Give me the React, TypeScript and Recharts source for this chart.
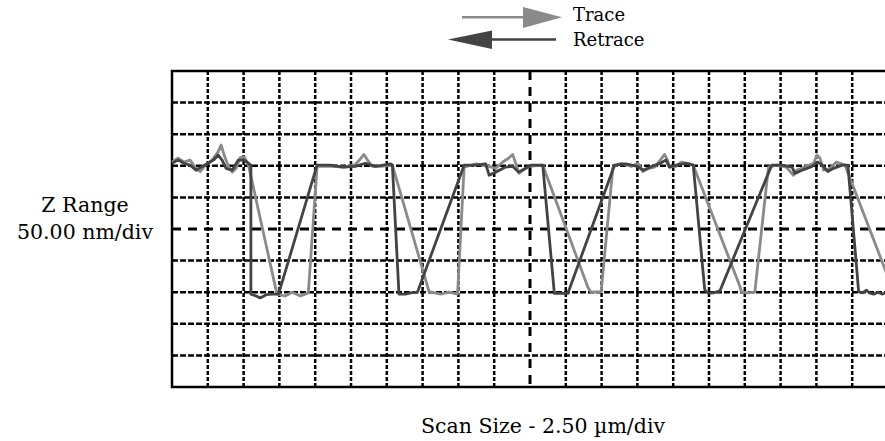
import { LineChart, Line, XAxis, YAxis, CartesianGrid, ReferenceArea } from "recharts";

// scan position in µm, height in nm (10 divisions of 50 nm, 20 divisions of 2.5 µm)
const trace = [
  { x: 0, z: 356 }, { x: 0.42, z: 362 }, { x: 0.84, z: 356 }, { x: 1.26, z: 359 },
  { x: 1.68, z: 346 }, { x: 1.96, z: 341 }, { x: 2.38, z: 352 }, { x: 2.8, z: 359 },
  { x: 3.22, z: 372 }, { x: 3.43, z: 383 }, { x: 3.64, z: 367 }, { x: 3.92, z: 350 },
  { x: 4.2, z: 340 }, { x: 4.48, z: 346 }, { x: 4.76, z: 363 }, { x: 5.04, z: 364 },
  { x: 5.32, z: 353 }, { x: 7.33, z: 147 }, { x: 7.9, z: 144 }, { x: 8.4, z: 150 },
  { x: 8.96, z: 144 }, { x: 9.52, z: 149 }, { x: 10.13, z: 349 }, { x: 11.07, z: 349 },
  { x: 12.1, z: 348 }, { x: 12.8, z: 352 }, { x: 13.2, z: 362 }, { x: 13.4, z: 368 },
  { x: 13.65, z: 359 }, { x: 14.0, z: 349 }, { x: 14.57, z: 349 }, { x: 15.39, z: 351 },
  { x: 17.95, z: 151 }, { x: 18.77, z: 147 }, { x: 19.33, z: 150 }, { x: 19.94, z: 147 },
  { x: 20.4, z: 348 }, { x: 21.22, z: 353 }, { x: 22.13, z: 349 }, { x: 22.6, z: 346 },
  { x: 23.1, z: 356 }, { x: 23.5, z: 362 }, { x: 23.79, z: 368 }, { x: 24.0, z: 354 },
  { x: 24.23, z: 338 }, { x: 24.5, z: 343 }, { x: 24.93, z: 349 }, { x: 25.89, z: 351 },
  { x: 29.04, z: 158 }, { x: 29.27, z: 150 }, { x: 29.97, z: 151 }, { x: 30.79, z: 348 },
  { x: 31.37, z: 354 }, { x: 32.07, z: 349 }, { x: 32.54, z: 354 }, { x: 32.89, z: 341 },
  { x: 33.3, z: 346 }, { x: 33.7, z: 348 }, { x: 34.2, z: 362 }, { x: 34.4, z: 368 },
  { x: 34.6, z: 359 }, { x: 34.76, z: 348 }, { x: 35.2, z: 349 }, { x: 35.57, z: 356 },
  { x: 36.0, z: 354 }, { x: 36.4, z: 351 }, { x: 39.66, z: 159 }, { x: 39.78, z: 150 },
  { x: 40.2, z: 149 }, { x: 40.7, z: 150 }, { x: 41.65, z: 348 }, { x: 42.2, z: 351 },
  { x: 42.9, z: 348 }, { x: 43.4, z: 335 }, { x: 43.6, z: 343 }, { x: 44.3, z: 349 },
  { x: 44.8, z: 354 }, { x: 45.04, z: 367 }, { x: 45.25, z: 362 }, { x: 45.5, z: 343 },
  { x: 45.95, z: 346 }, { x: 46.4, z: 356 }, { x: 47.0, z: 351 }, { x: 50.0, z: 174 },
];

const retrace = [
  { x: 0, z: 354 }, { x: 0.42, z: 359 }, { x: 0.84, z: 354 }, { x: 1.26, z: 351 },
  { x: 1.68, z: 343 }, { x: 2.1, z: 349 }, { x: 2.52, z: 354 }, { x: 2.94, z: 360 },
  { x: 3.22, z: 367 }, { x: 3.5, z: 359 }, { x: 3.78, z: 346 }, { x: 4.2, z: 343 },
  { x: 4.62, z: 359 }, { x: 5.04, z: 359 }, { x: 5.51, z: 351 }, { x: 5.51, z: 147 },
  { x: 5.88, z: 144 }, { x: 6.16, z: 141 }, { x: 6.58, z: 146 }, { x: 7.0, z: 147 },
  { x: 7.44, z: 147 }, { x: 10.13, z: 351 }, { x: 11.07, z: 351 }, { x: 11.9, z: 348 },
  { x: 12.8, z: 349 }, { x: 13.5, z: 354 }, { x: 14.2, z: 349 }, { x: 15.27, z: 353 },
  { x: 15.39, z: 351 }, { x: 15.85, z: 147 }, { x: 16.3, z: 147 }, { x: 16.67, z: 149 },
  { x: 17.14, z: 150 }, { x: 20.4, z: 351 }, { x: 21.2, z: 351 }, { x: 21.9, z: 353 },
  { x: 22.15, z: 335 }, { x: 22.6, z: 340 }, { x: 23.3, z: 348 }, { x: 23.8, z: 349 },
  { x: 24.2, z: 340 }, { x: 24.7, z: 346 }, { x: 25.07, z: 351 }, { x: 25.89, z: 351 },
  { x: 26.7, z: 148 }, { x: 27.64, z: 148 }, { x: 30.9, z: 351 }, { x: 31.7, z: 353 },
  { x: 32.5, z: 349 }, { x: 32.9, z: 343 }, { x: 33.5, z: 349 }, { x: 34.0, z: 353 },
  { x: 34.5, z: 359 }, { x: 34.73, z: 348 }, { x: 35.2, z: 351 }, { x: 35.9, z: 354 },
  { x: 36.4, z: 351 }, { x: 37.2, z: 154 }, { x: 37.4, z: 149 }, { x: 37.8, z: 149 },
  { x: 38.26, z: 152 }, { x: 41.88, z: 351 }, { x: 42.6, z: 351 }, { x: 43.3, z: 348 },
  { x: 43.5, z: 338 }, { x: 44.0, z: 343 }, { x: 44.7, z: 349 }, { x: 45.1, z: 356 },
  { x: 45.4, z: 351 }, { x: 45.8, z: 341 }, { x: 46.2, z: 346 }, { x: 46.8, z: 351 },
  { x: 47.2, z: 351 }, { x: 47.95, z: 151 }, { x: 48.2, z: 149 }, { x: 48.5, z: 153 },
  { x: 48.7, z: 149 }, { x: 49.0, z: 147 }, { x: 49.3, z: 150 }, { x: 49.58, z: 147 },
  { x: 50.0, z: 150 },
];

// division lines; the centre ones get their own heavier dash
const scanTicks = [2.5, 5, 7.5, 10, 12.5, 15, 17.5, 20, 22.5, 27.5, 30, 32.5, 35, 37.5, 40, 42.5, 45, 47.5];
const zTicks = [50, 100, 150, 200, 300, 350, 400, 450];
const scanCentre = [25];
const zCentre = [250];

const TRACE = "#8a8a8a";
const RETRACE = "#434343";
const FONT = "'DejaVu Serif', serif";

// the axis scale is a plain d3 function in some recharts builds and an object with map() in others
const toPx = (axis: any, v: number) => {
  const s = axis?.scale;
  if (typeof s === "function") return s(v);
  if (s && typeof s.map === "function") return s.map(v);
  return NaN;
};
const onX = (values: number[]) => ({ xAxis }: any) => values.map((v) => toPx(xAxis, v));
const onY = (values: number[]) => ({ yAxis }: any) => values.map((v) => toPx(yAxis, v));

function ZLabel({ viewBox }: any) {
  const cx = viewBox.x + 85;
  return (
    <text textAnchor="middle" fontFamily={FONT} fontSize={20.5} fill="#000">
      <tspan x={cx} y={211.5}>Z Range</tspan>
      <tspan x={cx} y={239.3}>50.00 nm/div</tspan>
    </text>
  );
}

function ScanLabel({ viewBox }: any) {
  return (
    <text x={viewBox.x + 371} y={433} textAnchor="middle" fontFamily={FONT} fontSize={20.5} fill="#000">
      Scan Size - 2.50 µm/div
    </text>
  );
}

function DirectionKey() {
  return (
    <svg width={885} height={60} style={{ position: "absolute", left: 0, top: 0 }}>
      <line x1={462} y1={17.3} x2={525} y2={17.3} stroke={TRACE} strokeWidth={2.5} />
      <polygon points="523,7 523,28 562,17.3" fill={TRACE} />
      <line x1={490} y1={39.5} x2={556} y2={39.5} stroke={RETRACE} strokeWidth={2.5} />
      <polygon points="492,30.5 492,49 448,39.5" fill={RETRACE} />
      <text x={573} y={21} fontFamily={FONT} fontSize={18} fill="#000">Trace</text>
      <text x={573} y={46} fontFamily={FONT} fontSize={18} fill="#000">Retrace</text>
    </svg>
  );
}

export default function App() {
  return (
    <div style={{ position: "fixed", left: 0, top: 0, width: 885, height: 441, overflow: "hidden", background: "#fff" }}>
      <LineChart width={900} height={441} margin={{ top: 71, right: 12, bottom: 0, left: 0 }}>
        <XAxis type="number" dataKey="x" domain={[0, 50]} height={54} tick={false} tickLine={false}
          axisLine={false} label={<ScanLabel />} />
        <YAxis type="number" domain={[0, 500]} width={172} tick={false} tickLine={false}
          axisLine={false} label={<ZLabel />} />

        <CartesianGrid vertical={false} horizontalCoordinatesGenerator={onY(zTicks)}
          stroke="#000" strokeWidth={2.5} strokeDasharray="6 2" />
        <CartesianGrid horizontal={false} verticalCoordinatesGenerator={onX(scanTicks)}
          stroke="#000" strokeWidth={2.5} strokeDasharray="4 2" />
        <CartesianGrid horizontalCoordinatesGenerator={onY(zCentre)} verticalCoordinatesGenerator={onX(scanCentre)}
          stroke="#000" strokeWidth={3} strokeDasharray="9 7" />

        <ReferenceArea x1={0} x2={50} y1={0} y2={500} fill="none" fillOpacity={0}
          stroke="#000" strokeWidth={2.5} ifOverflow="visible" />

        <Line data={trace} dataKey="z" type="linear" stroke={TRACE} strokeWidth={2.8}
          dot={false} isAnimationActive={false} strokeLinejoin="round" />
        <Line data={retrace} dataKey="z" type="linear" stroke={RETRACE} strokeWidth={2.8}
          dot={false} isAnimationActive={false} strokeLinejoin="round" />
      </LineChart>
      <DirectionKey />
    </div>
  );
}
